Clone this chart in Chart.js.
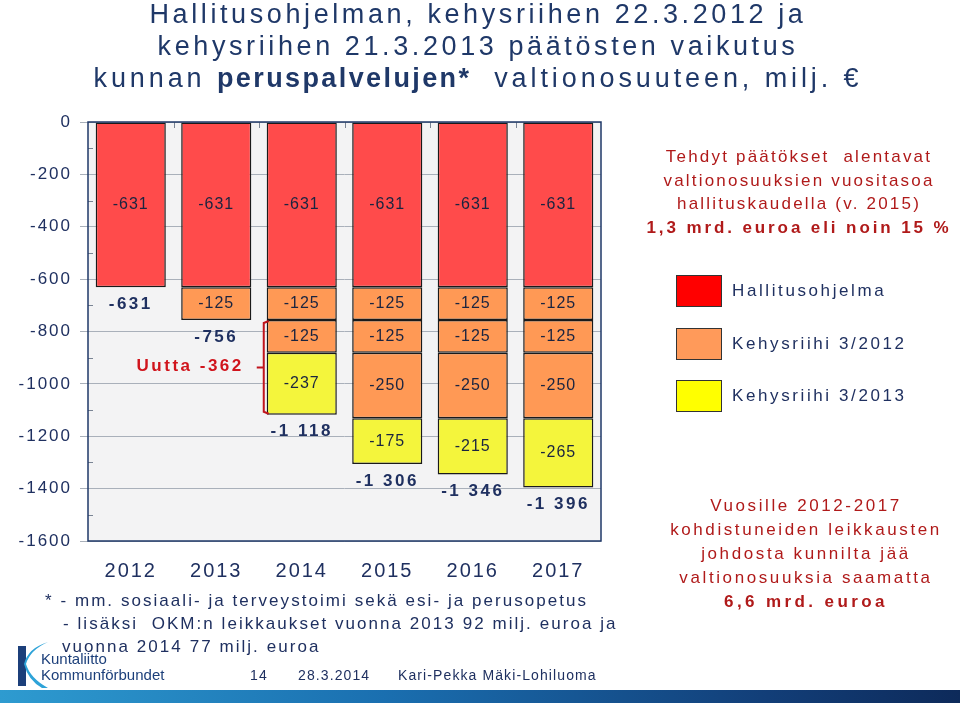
<!DOCTYPE html>
<html>
<head>
<meta charset="utf-8">
<script src="https://cdn.jsdelivr.net/npm/chart.js@4.4.1/dist/chart.umd.min.js"></script>
<style>
  html, body { margin: 0; padding: 0; background: #fff; }
  #wrap { position: relative; width: 960px; height: 703px; overflow: hidden; font-family: "Liberation Sans", Arial, sans-serif; }
  #c { position: absolute; left: 0; top: 0; }
  .t { position: absolute; white-space: nowrap; }
  #title { left: 0; width: 956px; top: -2px; text-align: center; color: #1f3868; font-size: 27px; line-height: 32px; letter-spacing: 3.6px; }
  #note1 { left: 644px; width: 310px; top: 145px; text-align: center; color: #b01a1a; font-size: 17px; line-height: 23.5px; letter-spacing: 2.2px; }
  #note2 { left: 644px; width: 324px; top: 494px; text-align: center; color: #b01a1a; font-size: 17px; line-height: 24px; letter-spacing: 2.6px; }
  #legend { left: 676px; top: 275px; }
  .lg { position: absolute; left: 0; width: 44px; height: 30px; border: 1px solid #333; }
  .lgt { position: absolute; left: 56px; font-size: 17px; color: #1f3060; letter-spacing: 2.6px; white-space: nowrap; }
  #foot { left: 45px; top: 589px; color: #1f3060; font-size: 17px; line-height: 23px; letter-spacing: 2.05px; }
  #bar { left: 0; top: 690px; width: 960px; height: 13px; background: linear-gradient(to right, #2e9bd0, #1a6fb0 40%, #123e78 80%, #0d2a5a); }
  .meta { top: 667px; font-size: 14px; color: #1f3060; letter-spacing: 1.1px; }
</style>
</head>
<body>
<div id="wrap">
  <canvas id="c" width="960" height="703"></canvas>
  <div class="t" id="title">Hallitusohjelman, kehysriihen 22.3.2012 ja<br>kehysriihen 21.3.2013 päätösten vaikutus<br><span style="letter-spacing:3.9px">kunnan <b style="letter-spacing:2.4px">peruspalvelujen*</b>&nbsp; valtionosuuteen, milj. €</span></div>
  <div class="t" id="note1">Tehdyt päätökset&nbsp; alentavat<br>valtionosuuksien vuositasoa<br>hallituskaudella (v. 2015)<br><b style="letter-spacing:2.9px">1,3 mrd. euroa eli noin 15 %</b></div>
  <div class="t" id="legend"></div>
  <div class="t" id="note2">Vuosille 2012-2017<br>kohdistuneiden leikkausten<br>johdosta kunnilta jää<br>valtionosuuksia saamatta<br><b style="letter-spacing:3.4px">6,6 mrd. euroa</b></div>
  <div class="t" id="foot">* - mm. sosiaali- ja terveystoimi sekä esi- ja perusopetus<br><span style="margin-left:18px">- lisäksi&nbsp; OKM:n leikkaukset vuonna 2013 92 milj. euroa ja</span><br><span style="margin-left:17px">vuonna 2014 77 milj. euroa</span></div>
  <svg class="t" style="left:14px;top:640px" width="40" height="50">
    <rect x="4" y="6" width="8" height="40" fill="#1c3f7a"/>
    <path d="M34 2 Q16 10 12 24 Q16 38 34 48 L28 48 Q14 40 10 24 Q14 8 34 2 Z" fill="#2ea3d8"/>
  </svg>
  <div class="t" style="left:41px;top:651px;font-size:15px;line-height:16px;color:#1c3f7a">Kuntaliitto<br>Kommunförbundet</div>
  <div class="t meta" style="left:250px">14</div>
  <div class="t meta" style="left:298px">28.3.2014</div>
  <div class="t meta" style="left:398px">Kari-Pekka Mäki-Lohiluoma</div>
  <div class="t" id="bar"></div>
</div>
<script>
// vuodet ja leikkaukset, milj. €
const years = ['2012', '2013', '2014', '2015', '2016', '2017'];
const hallitusohjelma = [-631, -631, -631, -631, -631, -631];
const kehys2012a = [null, -125, -125, -125, -125, -125];
const kehys2012b = [null, null, -125, -125, -125, -125];
const kehys2012c = [null, null, null, -250, -250, -250];
const kehys2013 = [null, null, -237, -175, -215, -265];
const yTicks = [0, -200, -400, -600, -800, -1000, -1200, -1400, -1600];

const barRed = '#ff4b4b', barOrange = '#ff9955', barYellow = '#f4f53c';
const legendItems = [
  ['Hallitusohjelma', '#ff0000'],
  ['Kehysriihi 3/2012', '#ff9a5a'],
  ['Kehysriihi 3/2013', '#ffff00']
];
const navy = '#1f3060';

// legenda
const lg = document.getElementById('legend');
legendItems.forEach(function (it, i) {
  lg.innerHTML += '<div class="lg" style="top:' + (i * 52.5) + 'px;background:' + it[1] + '"></div>' +
    '<div class="lgt" style="top:' + (i * 52.5 + 6) + 'px">' + it[0] + '</div>';
});

function fmt(v) {
  const s = String(Math.abs(v));
  const out = s.length > 3 ? s.slice(0, s.length - 3) + ' ' + s.slice(-3) : s;
  return '-' + out;
}

const decor = {
  id: 'decor',
  beforeDraw(chart) {
    const a = chart.chartArea, ctx = chart.ctx;
    ctx.letterSpacing = '2px';
    ctx.save();
    ctx.fillStyle = '#f3f3f4';
    ctx.fillRect(a.left, a.top, a.right - a.left, a.bottom - a.top);
    ctx.restore();
  },
  afterDatasetsDraw(chart) {
    const a = chart.chartArea, ctx = chart.ctx;
    const y = chart.scales.y, x = chart.scales.x;
    ctx.save();
    // minor ticks
    ctx.strokeStyle = '#7a8494';
    ctx.lineWidth = 1;
    for (let v = -100; v > -1600; v -= 200) {
      const py = Math.round(y.getPixelForValue(v)) + 0.5;
      ctx.beginPath(); ctx.moveTo(a.left, py); ctx.lineTo(a.left + 5, py); ctx.stroke();
    }
    // category ticks at top
    for (let i = 1; i < years.length; i++) {
      const px = Math.round((x.getPixelForValue(i - 1) + x.getPixelForValue(i)) / 2) + 0.5;
      ctx.beginPath(); ctx.moveTo(px, a.top); ctx.lineTo(px, a.top + 6); ctx.stroke();
    }
    // frame
    ctx.strokeStyle = '#1f3868';
    ctx.lineWidth = 1.5;
    ctx.strokeRect(a.left, a.top, a.right - a.left, a.bottom - a.top);

    // segment labels
    ctx.textAlign = 'center';
    ctx.textBaseline = 'middle';
    ctx.fillStyle = '#1a2440';
    ctx.font = '16px "Liberation Sans", Arial, sans-serif';
    ctx.letterSpacing = '1px';
    chart.data.datasets.forEach(function (ds, di) {
      const meta = chart.getDatasetMeta(di);
      meta.data.forEach(function (bar, i) {
        const v = ds.data[i];
        if (v === null) return;
        ctx.fillText(String(v), bar.x, (bar.y + bar.base) / 2);
      });
    });

    // totals under bars
    ctx.font = 'bold 17px "Liberation Sans", Arial, sans-serif';
    ctx.letterSpacing = '2.5px';
    ctx.fillStyle = navy;
    years.forEach(function (yr, i) {
      let total = 0;
      chart.data.datasets.forEach(function (ds) { total += ds.data[i] || 0; });
      const px = x.getPixelForValue(i);
      ctx.fillText(fmt(total), px, y.getPixelForValue(total) + 17);
    });

    // "Uutta" bracket for 2014
    const i = 2;
    const newCut = kehys2012b[i] + kehys2013[i];
    const top = y.getPixelForValue(hallitusohjelma[i] + kehys2012a[i]);
    const bot = y.getPixelForValue(hallitusohjelma[i] + kehys2012a[i] + newCut);
    const bx = chart.getDatasetMeta(0).data[i].x - 35 - 3;
    const mid = (top + bot) / 2;
    ctx.strokeStyle = '#c0141c';
    ctx.lineWidth = 2;
    ctx.beginPath();
    ctx.moveTo(bx + 5, top + 1); ctx.lineTo(bx, top + 3); ctx.lineTo(bx, bot - 3); ctx.lineTo(bx + 5, bot - 1);
    ctx.moveTo(bx, mid); ctx.lineTo(bx - 7, mid);
    ctx.stroke();
    ctx.fillStyle = '#d0141c';
    ctx.textAlign = 'right';
    ctx.font = 'bold 17px "Liberation Sans", Arial, sans-serif';
    ctx.letterSpacing = '2.5px';
    ctx.fillText('Uutta ' + newCut, bx - 20, mid - 1);
    ctx.restore();
  }
};

function ds(label, data, color) {
  return {
    label: label, data: data, backgroundColor: color,
    borderColor: '#1a1a1a', borderWidth: 1.5, borderSkipped: false,
    barPercentage: 0.82, categoryPercentage: 1.0
  };
}

const chart = new Chart(document.getElementById('c'), {
  type: 'bar',
  data: {
    labels: years,
    datasets: [
      ds('Hallitusohjelma', hallitusohjelma, barRed),
      ds('Kehysriihi 3/2012', kehys2012a, barOrange),
      ds('Kehysriihi 3/2012', kehys2012b, barOrange),
      ds('Kehysriihi 3/2012', kehys2012c, barOrange),
      ds('Kehysriihi 3/2013', kehys2013, barYellow)
    ]
  },
  options: {
    responsive: false,
    animation: false,
    layout: { padding: { left: 0, top: 122, right: 359, bottom: 117 } },
    plugins: { legend: { display: false }, tooltip: { enabled: false } },
    scales: {
      x: {
        stacked: true,
        grid: { display: false },
        border: { display: false },
        ticks: { color: navy, font: { size: 20, family: '"Liberation Sans", Arial, sans-serif' }, padding: 10 },
        afterFit(s) { s.height = 45; }
      },
      y: {
        stacked: true,
        min: -1600, max: 0,
        afterBuildTicks(s) { s.ticks = yTicks.map(function (v) { return { value: v }; }); },
        grid: { color: '#a9b0ba', lineWidth: 1, tickLength: 8 },
        border: { display: false },
        ticks: {
          color: navy, font: { size: 17, family: '"Liberation Sans", Arial, sans-serif' }, padding: 8,
          callback: function (v) { return String(v); }
        },
        afterFit(s) { s.width = 88; }
      }
    }
  },
  plugins: [decor]
});
</script>
</body>
</html>
